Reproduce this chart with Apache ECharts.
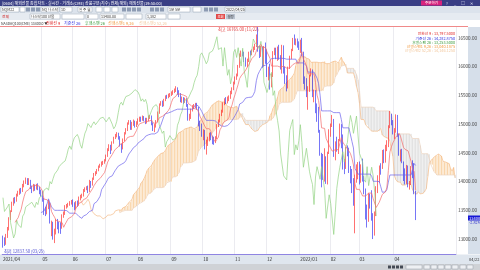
<!DOCTYPE html>
<html><head><meta charset="utf-8">
<script src="https://cdn.jsdelivr.net/npm/echarts@6/dist/echarts.min.js"></script>
<style>html,body{margin:0;padding:0;background:#fff;overflow:hidden}#c{width:480px;height:270px}</style>
</head><body><div id="c"></div>
<script>
// ---- categories (trading days) ----
const preDates = ['2021/03/25','2021/03/26','2021/03/29','2021/03/30','2021/03/31'];
const months = ['2021/04','2021/05','2021/06','2021/07','2021/08','2021/09','2021/10','2021/11','2021/12','2022/01','2022/02','2022/03','2022/04'];
const tradingDays = [21,20,22,21,22,21,21,21,22,20,19,23,15];
const futureSlots = 26;
// ---- x tick labels ----
const tickIdx = [0,26,46,68,89,111,132,153,174,196,216,235,258];
const tickLabels = ['2021/04','05','06','07','08','09','10','11','12','2022/01','02','03','04'];
// ---- daily candles [open, close, low, high] ----
const ohlc = [
[13010,12920,12850,13060],[13000,12940,12880,13030],[12950,13060,12900,13090],[13060,13180,13020,13210],[13190,13350,13150,13380],
[13360,13480,13330,13500],[13490,13620,13470,13650],[13620,13690,13580,13720],[13700,13660,13620,13730],[13670,13760,13650,13790],
[13770,13810,13740,13840],[13800,13850,13770,13880],[13850,13830,13790,13890],[13840,13930,13820,13960],[13930,13990,13900,14020],
[13990,14040,13960,14070],[14040,13970,13940,14060],[13970,14020,13940,14060],[14010,13900,13870,14030],[13900,13850,13800,13930],
[13850,13930,13830,13960],[13930,13880,13840,13950],[13880,13930,13860,13960],[13940,13880,13850,13970],[13880,13820,13780,13910],
[13820,13780,13740,13860],[13790,13720,13650,13830],[13700,13480,13420,13720],[13490,13470,13400,13560],[13470,13560,13430,13600],
[13560,13610,13520,13680],[13600,13290,13270,13640],[13270,13280,13050,13320],[13270,13020,12990,13300],[13020,13090,12930,13180],
[13100,13330,13080,13350],[13320,13250,13170,13350],[13250,13230,13100,13300],[13230,13200,13090,13290],[13200,13400,13180,13430],
[13400,13440,13370,13480],[13440,13560,13420,13590],[13560,13580,13530,13610],[13580,13600,13550,13630],[13600,13620,13580,13660],
[13620,13640,13600,13680],[13650,13620,13560,13690],[13620,13550,13500,13640],[13550,13640,13520,13660],[13640,13600,13560,13670],
[13600,13720,13580,13740],[13720,13730,13680,13770],[13730,13760,13710,13790],[13760,13850,13740,13870],[13850,13880,13820,13900],
[13880,13890,13850,13920],[13890,13850,13800,13930],[13850,14000,13820,14030],[13990,13960,13890,14010],[13960,14050,13930,14070],
[14050,14130,14030,14150],[14130,14150,14100,14180],[14150,14200,14130,14220],[14200,14260,14180,14280],[14260,14290,14240,14310],
[14290,14320,14260,14350],[14320,14330,14290,14360],[14330,14360,14310,14390],[14370,14450,14350,14470],[14450,14560,14430,14580],
[14560,14620,14530,14650],[14620,14560,14480,14640],[14560,14680,14540,14700],[14680,14760,14660,14780],[14760,14790,14740,14830],
[14790,14820,14770,14860],[14820,14760,14730,14850],[14760,14640,14610,14790],[14620,14580,14500,14660],[14580,14720,14560,14750],
[14720,14840,14700,14860],[14840,14900,14820,14930],[14900,15010,14880,15030],[15010,15040,14990,15070],[15040,14940,14900,15070],
[14940,15000,14900,15040],[15000,15040,14970,15080],[15040,14990,14940,15060],[14990,15020,14950,15050],[15020,15060,14990,15100],
[15060,15100,15040,15130],[15100,15080,15040,15130],[15080,15120,15060,15150],[15120,15090,15050,15140],[15090,15040,15000,15110],
[15040,15080,15010,15110],[15080,15120,15050,15150],[15120,15130,15090,15160],[15130,15000,14980,15150],[15000,14920,14880,15030],
[14920,14960,14860,15000],[14960,15050,14940,15070],[15050,15200,15030,15220],[15200,15340,15180,15360],[15340,15380,15320,15400],
[15380,15330,15300,15410],[15330,15420,15310,15440],[15420,15480,15400,15500],[15480,15470,15440,15510],[15470,15500,15450,15530],
[15500,15510,15470,15540],[15510,15540,15490,15570],[15540,15560,15510,15590],[15560,15600,15540,15620],[15600,15620,15560,15660],
[15620,15560,15510,15640],[15560,15500,15470,15590],[15500,15400,15380,15540],[15400,15440,15370,15480],[15440,15390,15350,15470],
[15390,15430,15370,15460],[15430,15340,15300,15450],[15340,15100,15060,15350],[15100,15120,15060,15180],[15120,15240,15090,15270],
[15240,15300,15220,15330],[15300,15320,15260,15350],[15320,15340,15280,15370],[15340,15290,15250,15370],[15290,14990,14960,15300],
[14990,14960,14880,15060],[14960,14840,14780,15010],[14840,14880,14720,14910],[14880,14600,14560,14900],[14600,14700,14470,14730],
[14700,14740,14620,14780],[14740,14800,14700,14850],[14800,14770,14720,14860],[14770,14720,14650,14800],[14720,14700,14640,14780],
[14700,14760,14670,14790],[14760,14980,14740,15000],[14980,15050,14950,15080],[15050,15160,15030,15180],[15160,15220,15140,15250],
[15220,15360,15200,15380],[15360,15420,15330,15450],[15420,15390,15350,15470],[15390,15440,15360,15480],[15440,15460,15400,15500],
[15460,15560,15440,15580],[15560,15610,15520,15640],[15610,15720,15590,15740],[15720,15800,15690,15830],[15800,15850,15770,15880],
[15850,16000,15830,16030],[16000,16200,15980,16230],[16200,16240,16170,16280],[16240,16230,16180,16290],[16230,16120,16080,16260],
[16120,16050,16000,16160],[16050,16100,15990,16140],[16100,16240,16080,16260],[16240,16230,16190,16280],[16230,16270,16200,16300],
[16270,16330,16250,16350],[16330,16360,16290,16400],[16360,16520,16340,16560],[16520,16300,16260,16690],[16300,16270,16150,16360],
[16270,16330,16170,16360],[16330,16010,15980,16350],[16010,16330,16000,16360],[16330,16090,16050,16420],[16090,15850,15820,16300],
[15850,15950,15760,16000],[15950,15700,15600,16050],[15700,15830,15640,15880],[15830,16250,15820,16270],[16250,16300,16200,16330],
[16300,16160,16130,16330],[16160,16330,16100,16350],[16330,16150,16120,16380],[16150,16010,15950,16200],[16010,16320,15880,16380],
[16320,15920,15880,16370],[15920,15800,15700,16000],[15800,15640,15570,15850],[15640,15980,15620,16000],[15980,16160,15960,16190],
[16160,16280,16130,16310],[16280,16480,16270,16500],[16480,16420,16380,16560],[16420,16430,16370,16490],[16430,16360,16330,16490],
[16360,16300,16290,16440],[16300,16440,16240,16470],[16440,16240,16180,16500],[16240,15730,15700,16260],[15730,15720,15600,15830],
[15720,15550,15470,15800],[15550,15640,15250,15660],[15640,15840,15560,15860],[15840,15900,15830,15970],[15900,15500,15470,15950],
[15500,15580,15380,15600],[15580,15220,15190,15590],[15220,15060,15040,15360],[15060,14880,14850,15300],[14880,14480,14450,14900],
[14480,14470,13900,14500],[14470,14100,14030,14480],[14100,14130,14000,14580],[14130,14030,13960,14440],[14030,14500,13950,14520],
[14500,14890,14480,14910],[14890,14990,14780,15010],[14990,15080,14950,15160],[15080,14470,14430,15090],[14470,14640,14370,14700],
[14640,14550,14520,14780],[14550,14710,14480,14740],[14710,14990,14700,15010],[14990,14680,14580,15000],[14680,14250,14210,14820],
[14250,14230,14130,14390],[14230,14580,14220,14600],[14580,14570,14440,14630],[14570,14180,14150,14590],[14180,14050,13970,14270],
[14050,13950,13800,14220],[13950,13600,13580,14060],[13600,14080,13100,14120],[14080,14260,13980,14300],[14260,14280,14040,14340],
[14280,14040,13950,14350],[14040,14260,13980,14300],[14260,14050,14000,14400],[14050,13850,13780,14100],[13850,13360,13340,13880],
[13360,13330,13200,13600],[13330,13770,13300,13800],[13770,13620,13530,13790],[13620,13350,13320,13850],[13350,13080,13000,13450],
[13080,13460,13060,13480],[13460,13880,13400,13920],[13880,14080,13800,14110],[14080,14250,13980,14280],[14250,14240,14120,14320],
[14240,14520,14220,14550],[14520,14340,14320,14560],[14340,14600,14330,14640],[14600,14680,14530,14720],[14680,14950,14600,14980],
[14950,15150,14930,15230],[15150,15030,14980,15180],[15030,14840,14820,15070],[14840,14870,14740,14930],[14870,15140,14850,15170],
[15140,14810,14780,15160],[14810,14490,14450,14830],[14490,14520,14350,14560],[14520,14340,14320,14570],[14340,14030,14010,14350],
[14030,13990,13950,14230],[13990,14260,13960,14290],[14260,13930,13900,14280],[13930,13960,13860,14010],[13960,14250,13940,14270],
[14250,14100,14060,14370],[14100,13810,13780,14320],[13810,13400,13330,13840]
];
// ---- ichimoku periods ----
const periods = {tenkan: 9, kijun: 26, spanB: 52, shift: 26};
// ---- header / legend texts ----
const legendItems = [
  ['NASDAQ100(CME) 13400.0 \u25BC', '#333333', 1],
  ['전환선 9', '#e02828', 46],
  ['기준선 26', '#2b2be0', 64],
  ['후행스팬 26', '#3a9a3a', 85],
  ['선행스팬1 9,26', '#f09a40', 108],
  ['선행스팬2 52,26', '#f2c9a0', 139]
];
const valueLegend = [
  ['전환선 9 : 13,797.5000', '#e02828'],
  ['기준선 26 : 14,282.8750', '#2b2be0'],
  ['후행스팬 26 : 13,253.5000', '#3a9a3a'],
  ['선행스팬1 9,26 : 13,040.1875', '#f09a40'],
  ['선행스팬2 52,26 : 14,146.1250', '#f2c9a0']
];

// ---- build ----
const categories = preDates.slice();
months.forEach((m, j) => { for (let k = 1; k <= tradingDays[j]; k++) categories.push(m + '#' + k); });
for (let f = 1; f <= futureSlots; f++) categories.push('+' + f);
const N = ohlc.length, T = categories.length;
function midpt(i, n) {
  if (i < n - 1) return null;
  let hh = -Infinity, ll = Infinity;
  for (let k = i - n + 1; k <= i; k++) { hh = Math.max(hh, ohlc[k][3]); ll = Math.min(ll, ohlc[k][2]); }
  return (hh + ll) / 2;
}
const tenkan = new Array(T).fill(null), kijun = new Array(T).fill(null);
const spanA = new Array(T).fill(null), spanB = new Array(T).fill(null), chikou = new Array(T).fill(null);
for (let i = 0; i < N; i++) {
  tenkan[i] = midpt(i, periods.tenkan);
  kijun[i] = midpt(i, periods.kijun);
  if (tenkan[i] != null && kijun[i] != null) spanA[i + periods.shift] = (tenkan[i] + kijun[i]) / 2;
  const b = midpt(i, periods.spanB);
  if (b != null) spanB[i + periods.shift] = b;
  if (i >= periods.shift) chikou[i - periods.shift] = ohlc[i][1];
}
const cloud = [];
for (let i = 0; i < T; i++) if (spanA[i] != null && spanB[i] != null) cloud.push([i, spanA[i], spanB[i]]);
const gridLineIdx = tickIdx.slice(1);
const FF = '"Noto Sans CJK KR", "Liberation Sans", sans-serif';

function txt(x, y, t, fill, size, align, extra) {
  return Object.assign({type: 'text', x: x, y: y, z: 100, silent: true,
    style: {text: t, fill: fill, font: size + 'px ' + FF, align: align || 'left', verticalAlign: 'middle'}}, extra || {});
}
function rect(x, y, w, h, fill, stroke, z) {
  return {type: 'rect', z: z == null ? -10 : z, silent: true, shape: {x: x, y: y, width: w, height: h},
    style: {fill: fill, stroke: stroke || null, lineWidth: stroke ? 0.5 : 0}};
}
const g = [];
// title bar
g.push(rect(0, 0, 480, 6, '#3a3f85'));
g.push(txt(2, 3, '[0604] 해외선물 종합차트 - 실시간 - 거래소(CME) 상품구분(지수) 전체(해외) 해외선물(19:50:00)', '#ffffff', 4));
g.push(rect(421, 0.5, 21, 5, '#d8237d', null, 5));
g.push(txt(431.5, 3, '주문하기', '#ffffff', 3.6, 'center'));
['?','_','□','✕'].forEach((s, k) => g.push(txt(447 + k * 8, 3, s, '#dfe3f5', 4, 'center')));
// toolbar rows
g.push(rect(0, 6, 480, 7, '#dce3ec'));
g.push(rect(0, 13, 480, 7, '#e6ebf1'));
g.push(rect(0, 20, 480, 7, '#ffffff'));
[[1,18,'NQM22'],[20,5,''],[41,18,'NQ 나스닥'],[60,12,'1D'],[78,14,'일 주 월'],[96,6,''],[104,6,''],[112,6,''],[168,22,'1분 5분'],[193,8,''],[225,20,'2022/04/25']].forEach(b => {
  g.push(rect(b[0], 7, b[1], 5, '#ffffff', '#9aa6b6', 5));
  if (b[2]) g.push(txt(b[0] + 1, 9.6, b[2], '#333', 3.6));
});
[[26,4],[31,4],[36,4],[122,4],[127,4],[132,4],[137,4],[150,4],[155,4],[160,4],[204,4],[209,4],[214,4]].forEach(b => g.push(rect(b[0], 7.5, b[1], 4, '#8d9bb3', null, 5)));
g.push(txt(2, 16.5, '전체', '#d02020', 3.8));
[[30,30,'나스닥100 선물'],[62,22,''],[86,12,'0'],[100,24,'13400.00'],[126,16,''],[146,20,'1,382'],[168,12,'']].forEach(b => {
  g.push(rect(b[0], 14, b[1], 5, '#ffffff', '#9aa6b6', 5));
  if (b[2]) g.push(txt(b[0] + 1, 16.6, b[2], '#333', 3.6));
});
g.push(rect(216, 14, 9, 5, '#e24a4a', null, 5));
g.push(txt(220.5, 16.6, '조회', '#ffffff', 3.4, 'center'));
g.push(rect(226, 14, 9, 5, '#b9c2cf', null, 5));
g.push(txt(230.5, 16.6, '설정', '#333', 3.4, 'center'));
// legend row
legendItems.forEach((it, k) => g.push(txt(it[2], 23.2, it[0], it[1], k === 0 ? 3.5 : 4.0)));
// top line and annotations
g.push({type: 'line', z: 100, silent: true, shape: {x1: 0, y1: 26.5, x2: 468, y2: 26.5}, style: {stroke: '#f08a8a', lineWidth: 1}});
g.push(txt(218, 29.5, '최고 16765.00 (11/22)', '#e03a3a', 4.2));
g.push(txt(4, 251.2, '최저 12837.50 (03/25)', '#4a4ad0', 4.2));
valueLegend.forEach((v, k) => g.push(txt(455, 34 + k * 4.1, v[0], v[1], 3.8, 'right')));
// right axis panel, x band, bottom bar
g.push(rect(468, 27, 12, 227, '#d6dfea'));
g.push(rect(0, 254.5, 480, 9.5, '#dfe6ee'));
g.push(rect(0, 264, 480, 6, '#cfd2d6'));
[[388,3],[392,3],[396,3],[400,3]].forEach(b => g.push(rect(b[0], 265.5, b[1], 3, '#444a55', null, 5)));
[[406,16],[424,6],[431,6],[438,6],[445,6],[452,6],[460,6],[467,6]].forEach(b => g.push(rect(b[0], 265, b[1], 4, '#eef0f3', '#9aa0aa', 5)));
g.push(txt(469, 259, '04/22', '#333', 4));
// current price marker
g.push(rect(468, 215.5, 12, 5, '#1616d6', null, 50));
g.push(txt(469, 218, '13400.0', '#ffffff', 4));
g.push(txt(469, 223, '-2.82%', '#2323c8', 3.8));

const chart = echarts.init(document.getElementById('c'), null, {renderer: 'canvas'});
chart.setOption({
  animation: false,
  backgroundColor: '#ffffff',
  grid: {left: 0, right: 12, top: 27, bottom: 16, containLabel: false},
  xAxis: {
    type: 'category', data: categories, boundaryGap: true,
    axisLine: {lineStyle: {color: '#8f85e2', width: 1}},
    axisTick: {show: false},
    axisLabel: {
      interval: (idx) => tickIdx.indexOf(idx) >= 0,
      formatter: (v, idx) => tickLabels[tickIdx.indexOf(idx)],
      fontSize: 4.6, color: '#333', align: 'left', margin: 3, fontFamily: FF
    },
    splitLine: {show: true, interval: (idx) => gridLineIdx.indexOf(idx) >= 0, lineStyle: {color: '#ebebf0', width: 1}}
  },
  yAxis: {
    type: 'value', position: 'right', scale: true, min: 12740, max: 16690, splitNumber: 8,
    axisLine: {show: false}, axisTick: {show: false}, splitLine: {show: false},
    axisLabel: {showMinLabel: false, showMaxLabel: false, fontSize: 4.6, color: '#444', margin: 2, fontFamily: FF,
      formatter: (v) => v.toFixed(2)}
  },
  graphic: g,
  series: [
    {type: 'custom', name: 'cloud', z: 1, silent: true, clip: true,
      renderItem: (params, api) => {
        const i = api.value(0), a = api.value(1), b = api.value(2);
        const p1 = api.coord([i, a]), p2 = api.coord([i, b]);
        return {type: 'line', shape: {x1: p1[0], y1: p1[1], x2: p2[0], y2: p2[1]},
          style: {stroke: a >= b ? '#f8c993' : '#d6d6d6', lineWidth: 0.8}};
      },
      encode: {x: 0, y: [1, 2]}, data: cloud},
    {type: 'line', name: '선행스팬1', data: spanA, symbol: 'none', z: 2, silent: true, lineStyle: {color: '#f5bb88', width: 0.7}},
    {type: 'line', name: '선행스팬2', data: spanB, symbol: 'none', z: 2, silent: true, lineStyle: {color: '#ecd3bf', width: 0.7}},
    {type: 'candlestick', name: 'NASDAQ100', data: ohlc.map(d => d.slice()), z: 3, barWidth: '75%', silent: true,
      itemStyle: {color: '#ff1010', color0: '#1a1af0', borderColor: '#ff1010', borderColor0: '#1a1af0', borderWidth: 0.6}},
    {type: 'line', name: '후행스팬', data: chikou, symbol: 'none', z: 4, silent: true, lineStyle: {color: '#92d283', width: 0.7}},
    {type: 'line', name: '기준선', data: kijun, symbol: 'none', z: 4, silent: true, lineStyle: {color: '#6b62ec', width: 0.7}},
    {type: 'line', name: '전환선', data: tenkan, symbol: 'none', z: 4, silent: true, lineStyle: {color: '#f36a6a', width: 0.7}}
  ]
});
</script></body></html>
